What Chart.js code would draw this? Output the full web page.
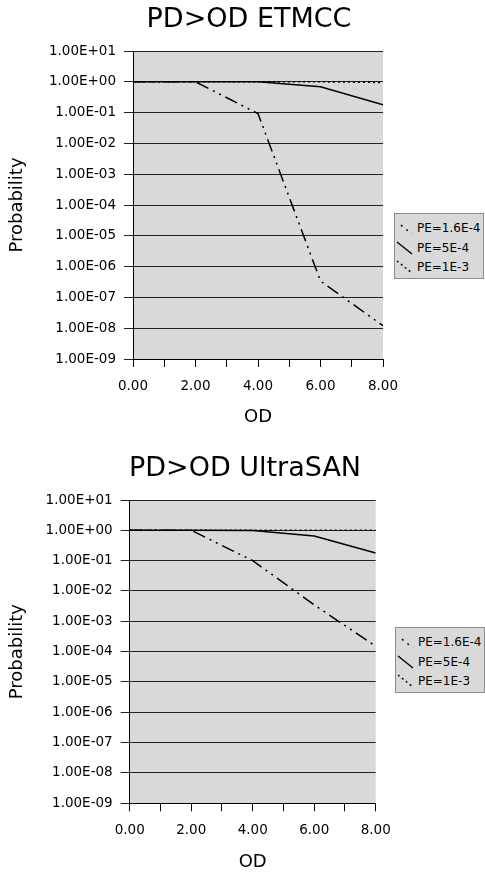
<!DOCTYPE html>
<html>
<head>
<meta charset="utf-8">
<script src="https://cdn.jsdelivr.net/npm/chart.js@4.4.1/dist/chart.umd.min.js"></script>
<style>
  html, body { margin: 0; padding: 0; background: #fff; }
  body { width: 485px; height: 873px; position: relative; overflow: hidden; font-family: "DejaVu Sans", sans-serif; }
  .chartbox { position: absolute; left: 0; }
  .legend { position: absolute; box-sizing: border-box; width: 90px; height: 66px; background: #d9d9d9; border: 1px solid #8c8c8c; }
  .legend svg { position: absolute; left: 0; top: 0; }
  .legend span { position: absolute; left: 22px; font-size: 12px; line-height: 14px; color: #000; white-space: nowrap; }
</style>
</head>
<body>
<div class="chartbox" style="top:0;width:498px;height:428px"><canvas id="etmcc" width="498" height="428"></canvas></div>
<div class="chartbox" style="top:428px;width:490px;height:445px"><canvas id="ultrasan" width="490" height="445"></canvas></div>
<div class="legend" id="legend1" style="left:394px;top:213px"></div>
<div class="legend" id="legend2" style="left:395px;top:627px"></div>
<script>
// OD values on the x axis
const odValues = [0, 2, 4, 6, 8];
const seriesLabels = ['PE=1.6E-4', 'PE=5E-4', 'PE=1E-3'];

// PD>OD ETMCC
const etmccLow = [1, 1, 0.093, 3.4e-7, 1.2e-8];
const etmccMid = [1, 1, 1, 0.69, 0.18];
const etmccHigh = [1, 1, 1, 1, 0.95];

// PD>OD UltraSAN
const ultraLow = [1, 1, 0.1, 3.5e-3, 1.5e-4];
const ultraMid = [1, 1, 0.98, 0.65, 0.18];
const ultraHigh = [1, 1, 1, 1, 1];

const yTicks = [1e-9, 1e-8, 1e-7, 1e-6, 1e-5, 1e-4, 1e-3, 1e-2, 1e-1, 1e0, 1e1];
const xTicks = [0, 1, 2, 3, 4, 5, 6, 7, 8];
const xLabelTicks = [0, 2, 4, 6, 8];

const FONT = 'DejaVu Sans';
const lineStyles = [
  { borderDash: [13, 5, 2, 5, 2, 5], borderWidth: 1.5 },
  { borderDash: [], borderWidth: 1.5 },
  { borderDash: [2, 3], borderWidth: 1.5 }
];

function fmtE(v) {
  const parts = Number(v).toExponential(2).split('e');
  const n = parseInt(parts[1], 10);
  return parts[0] + 'E' + (n < 0 ? '-' : '+') + String(Math.abs(n)).padStart(2, '0');
}

const plotBg = {
  id: 'plotBg',
  beforeDraw(chart) {
    const { ctx, chartArea: a } = chart;
    ctx.save();
    ctx.fillStyle = '#d9d9d9';
    ctx.fillRect(a.left, a.top, a.right - a.left, a.bottom - a.top);
    ctx.restore();
  }
};

function makeChart(id, title, series, g) {
  const datasets = series.map((vals, i) => ({
    label: seriesLabels[i],
    data: odValues.map((x, j) => ({ x: x, y: vals[j] })),
    borderColor: '#000',
    borderWidth: lineStyles[i].borderWidth,
    borderDash: lineStyles[i].borderDash,
    pointRadius: 0,
    tension: 0,
    fill: false
  }));
  return new Chart(document.getElementById(id), {
    type: 'line',
    data: { datasets: datasets },
    plugins: [plotBg],
    options: {
      responsive: false,
      animation: false,
      layout: { padding: 0 },
      plugins: {
        legend: { display: false },
        tooltip: { enabled: false },
        title: {
          display: true,
          text: title,
          color: '#000',
          font: { family: FONT, size: 27, weight: 'normal' },
          padding: { top: g.tTop, bottom: g.tBottom }
        }
      },
      scales: {
        x: {
          type: 'linear',
          min: 0,
          max: 8,
          afterBuildTicks: s => { s.ticks = xTicks.map(v => ({ value: v })); },
          afterFit: s => { s.height = g.xH; },
          ticks: {
            autoSkip: false,
            maxRotation: 0,
            padding: 11,
            color: '#000',
            font: { family: FONT, size: 13.5 },
            callback: v => xLabelTicks.includes(v) ? v.toFixed(2) : ''
          },
          grid: { drawOnChartArea: false, drawTicks: true, tickLength: 8, color: '#000', lineWidth: 1 },
          border: { color: '#000', width: 1 },
          title: { display: true, text: 'OD', color: '#000', font: { family: FONT, size: 18 }, padding: 0 }
        },
        y: {
          type: 'logarithmic',
          min: 1e-9,
          max: 10,
          afterBuildTicks: s => { s.ticks = yTicks.map(v => ({ value: v })); },
          afterFit: s => { s.width = g.yW; },
          ticks: {
            autoSkip: false,
            padding: 8,
            color: '#000',
            font: { family: FONT, size: 13.5 },
            callback: v => fmtE(v)
          },
          grid: { color: '#222', lineWidth: 1, tickLength: 9, drawTicks: true },
          border: { color: '#000', width: 1 },
          title: { display: true, text: 'Probability', color: '#000', font: { family: FONT, size: 18 }, padding: { top: 7, bottom: 0 } }
        },
        yr: {
          position: 'right',
          display: true,
          afterFit: s => { s.width = g.rW; },
          grid: { display: false },
          ticks: { display: false },
          border: { display: false }
        }
      }
    }
  });
}

function buildLegend(id) {
  const el = document.getElementById(id);
  const rows = [15, 35, 54];
  let svg = '<svg width="90" height="66" xmlns="http://www.w3.org/2000/svg">';
  seriesLabels.forEach((lab, i) => {
    const c = rows[i] - 1;
    const dash = lineStyles[i].borderDash.length ? lineStyles[i].borderDash.join(' ') : 'none';
    const off = i === 0 ? 13 : 0;
    svg += '<line x1="2" y1="' + (c - 6) + '" x2="17" y2="' + (c + 6) + '" stroke="#000" stroke-width="1.4" stroke-dasharray="' + dash + '" stroke-dashoffset="' + off + '"/>';
  });
  svg += '</svg>';
  el.innerHTML = svg + seriesLabels.map((lab, i) => '<span style="top:' + (rows[i] - 8) + 'px">' + lab + '</span>').join('');
}

makeChart('etmcc', 'PD>OD ETMCC', [etmccLow, etmccMid, etmccHigh],
  { tTop: 3.8, tBottom: 14.8, xH: 69, yW: 133, rW: 115 });
makeChart('ultrasan', 'PD>OD UltraSAN', [ultraLow, ultraMid, ultraHigh],
  { tTop: 24.8, tBottom: 14.8, xH: 69.7, yW: 129.7, rW: 114.3 });
buildLegend('legend1');
buildLegend('legend2');
</script>
</body>
</html>
